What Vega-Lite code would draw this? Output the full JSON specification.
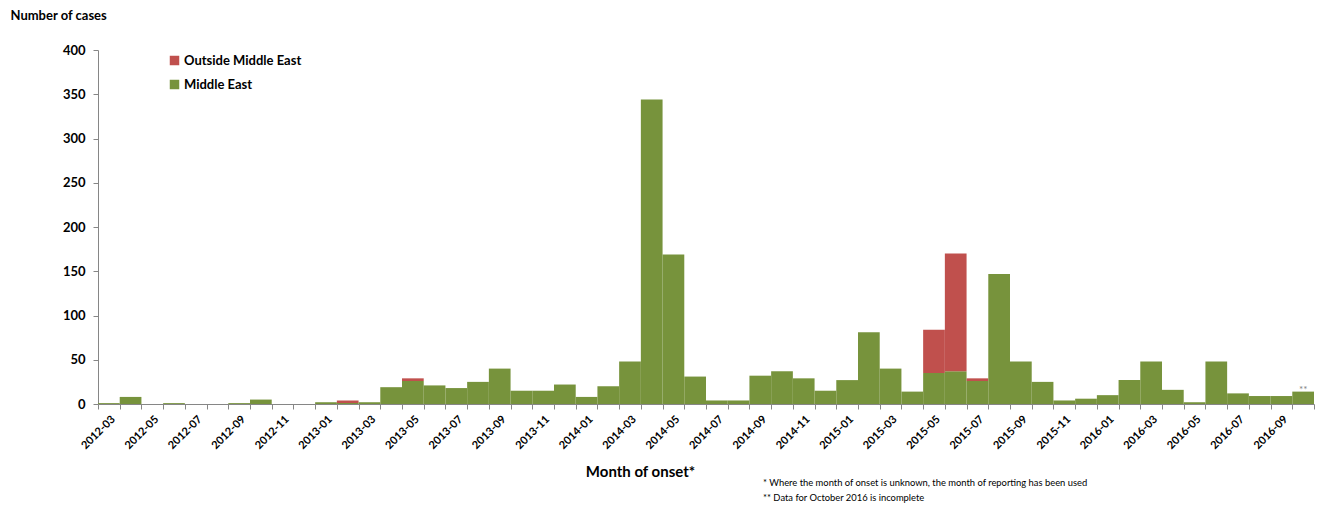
{
  "$schema": "https://vega.github.io/schema/vega-lite/v6.json",
  "width": 1216,
  "height": 354,
  "autosize": {"type": "none"},
  "padding": {"left": 98, "top": 50, "right": 8, "bottom": 103},
  "background": "white",
  "config": {
    "font": "Lato",
    "view": {"stroke": null}
  },
  "title": {
    "text": ["* Where the month of onset is unknown, the month of reporting has been used", "** Data for October 2016 is incomplete"],
    "orient": "bottom",
    "anchor": "start",
    "align": "left",
    "dx": 753,
    "offset": 0,
    "fontSize": 9.4,
    "fontWeight": "normal",
    "color": "#000000",
    "lineHeight": 15
  },
  "data": {
    "values": [
      {"month": "2012-03", "series": "Middle East", "cases": 1},
      {"month": "2012-04", "series": "Middle East", "cases": 8},
      {"month": "2012-05", "series": "Middle East", "cases": 0},
      {"month": "2012-06", "series": "Middle East", "cases": 1},
      {"month": "2012-07", "series": "Middle East", "cases": 0},
      {"month": "2012-08", "series": "Middle East", "cases": 0},
      {"month": "2012-09", "series": "Middle East", "cases": 1},
      {"month": "2012-10", "series": "Middle East", "cases": 5},
      {"month": "2012-11", "series": "Middle East", "cases": 0},
      {"month": "2012-12", "series": "Middle East", "cases": 0},
      {"month": "2013-01", "series": "Middle East", "cases": 2},
      {"month": "2013-02", "series": "Middle East", "cases": 1},
      {"month": "2013-02", "series": "Outside Middle East", "cases": 3},
      {"month": "2013-03", "series": "Middle East", "cases": 2},
      {"month": "2013-04", "series": "Middle East", "cases": 19},
      {"month": "2013-05", "series": "Middle East", "cases": 26},
      {"month": "2013-05", "series": "Outside Middle East", "cases": 3},
      {"month": "2013-06", "series": "Middle East", "cases": 21},
      {"month": "2013-07", "series": "Middle East", "cases": 18},
      {"month": "2013-08", "series": "Middle East", "cases": 25},
      {"month": "2013-09", "series": "Middle East", "cases": 40},
      {"month": "2013-10", "series": "Middle East", "cases": 15},
      {"month": "2013-11", "series": "Middle East", "cases": 15},
      {"month": "2013-12", "series": "Middle East", "cases": 22},
      {"month": "2014-01", "series": "Middle East", "cases": 8},
      {"month": "2014-02", "series": "Middle East", "cases": 20},
      {"month": "2014-03", "series": "Middle East", "cases": 48},
      {"month": "2014-04", "series": "Middle East", "cases": 344},
      {"month": "2014-05", "series": "Middle East", "cases": 169},
      {"month": "2014-06", "series": "Middle East", "cases": 31},
      {"month": "2014-07", "series": "Middle East", "cases": 4},
      {"month": "2014-08", "series": "Middle East", "cases": 4},
      {"month": "2014-09", "series": "Middle East", "cases": 32},
      {"month": "2014-10", "series": "Middle East", "cases": 37},
      {"month": "2014-11", "series": "Middle East", "cases": 29},
      {"month": "2014-12", "series": "Middle East", "cases": 15},
      {"month": "2015-01", "series": "Middle East", "cases": 27},
      {"month": "2015-02", "series": "Middle East", "cases": 81},
      {"month": "2015-03", "series": "Middle East", "cases": 40},
      {"month": "2015-04", "series": "Middle East", "cases": 14},
      {"month": "2015-05", "series": "Middle East", "cases": 35},
      {"month": "2015-05", "series": "Outside Middle East", "cases": 49},
      {"month": "2015-06", "series": "Middle East", "cases": 37},
      {"month": "2015-06", "series": "Outside Middle East", "cases": 133},
      {"month": "2015-07", "series": "Middle East", "cases": 26},
      {"month": "2015-07", "series": "Outside Middle East", "cases": 3},
      {"month": "2015-08", "series": "Middle East", "cases": 147},
      {"month": "2015-09", "series": "Middle East", "cases": 48},
      {"month": "2015-10", "series": "Middle East", "cases": 25},
      {"month": "2015-11", "series": "Middle East", "cases": 4},
      {"month": "2015-12", "series": "Middle East", "cases": 6},
      {"month": "2016-01", "series": "Middle East", "cases": 10},
      {"month": "2016-02", "series": "Middle East", "cases": 27},
      {"month": "2016-03", "series": "Middle East", "cases": 48},
      {"month": "2016-04", "series": "Middle East", "cases": 16},
      {"month": "2016-05", "series": "Middle East", "cases": 2},
      {"month": "2016-06", "series": "Middle East", "cases": 48},
      {"month": "2016-07", "series": "Middle East", "cases": 12},
      {"month": "2016-08", "series": "Middle East", "cases": 9},
      {"month": "2016-09", "series": "Middle East", "cases": 9},
      {"month": "2016-10", "series": "Middle East", "cases": 14, "note": "**"}
    ]
  },
  "encoding": {
    "x": {
      "field": "month",
      "type": "ordinal",
      "sort": "ascending",
      "scale": {"paddingInner": 0, "paddingOuter": 0},
      "axis": {
        "title": "Month of onset*",
        "titleFontSize": 15,
        "titleFontWeight": "bold",
        "titleColor": "#000000",
        "titleX": 542,
        "titleY": 67,
        "titleAlign": "center",
        "titleBaseline": "middle",
        "labelAngle": -45,
        "labelFontSize": 11,
        "labelFontWeight": "bold",
        "labelColor": "#000000",
        "labelPadding": 4,
        "labelOverlap": false,
        "labelExpr": "indexof(['01','03','05','07','09','11'], substring(datum.value, 5)) >= 0 ? datum.value : ''",
        "tickBand": "extent",
        "tickSize": 5,
        "tickColor": "#868686",
        "domainColor": "#868686",
        "grid": false
      }
    },
    "y": {
      "field": "cases",
      "type": "quantitative",
      "stack": "zero",
      "scale": {"domain": [0, 400], "nice": false},
      "axis": {
        "values": [0, 50, 100, 150, 200, 250, 300, 350, 400],
        "title": "Number of cases",
        "titleAngle": 0,
        "titleX": -88,
        "titleY": -35,
        "titleAlign": "left",
        "titleBaseline": "middle",
        "titleFontSize": 13,
        "titleFontWeight": "bold",
        "titleColor": "#000000",
        "labelFontSize": 13,
        "labelFontWeight": "bold",
        "labelColor": "#000000",
        "labelPadding": 8,
        "tickSize": 5,
        "tickColor": "#868686",
        "domainColor": "#868686",
        "grid": false
      }
    }
  },
  "layer": [
    {
      "mark": {"type": "bar"},
      "encoding": {
        "color": {
          "field": "series",
          "type": "nominal",
          "scale": {"domain": ["Outside Middle East", "Middle East"], "range": ["#C0504D", "#77933C"]},
          "legend": {
            "title": null,
            "orient": "none",
            "legendX": 70,
            "legendY": 4,
            "symbolType": "square",
            "symbolSize": 90,
            "labelFontSize": 13,
            "labelFontWeight": "bold",
            "labelColor": "#000000",
            "rowPadding": 10,
            "labelOffset": 3
          }
        },
        "order": {"field": "series", "sort": "ascending"}
      }
    },
    {
      "transform": [{"filter": "datum.note != null"}],
      "mark": {"type": "text", "dy": 3, "fontSize": 10, "color": "#7f7f7f", "baseline": "bottom"},
      "encoding": {
        "text": {"field": "note"}
      }
    }
  ]
}
